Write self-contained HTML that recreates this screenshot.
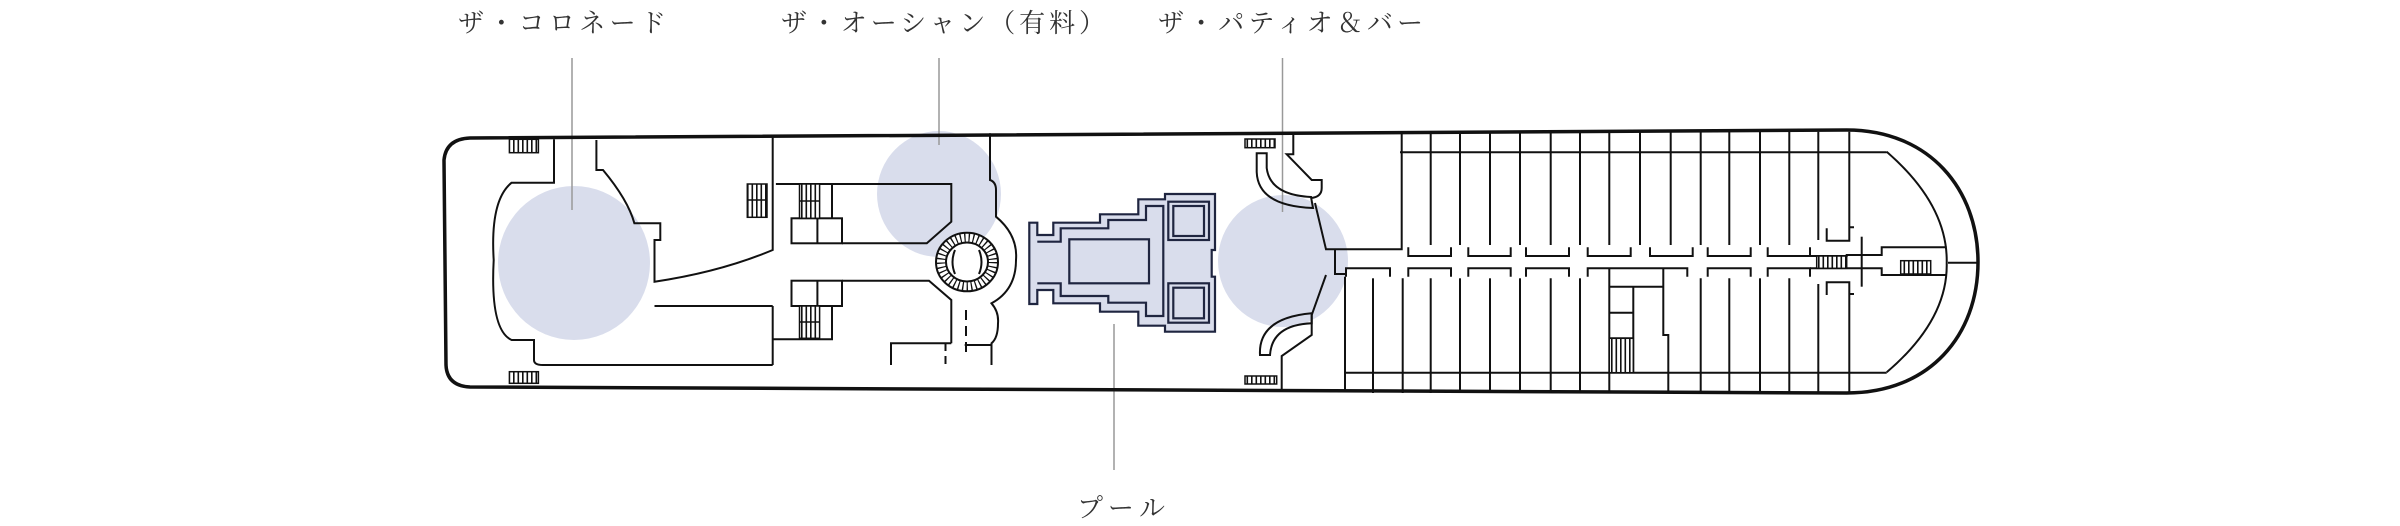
<!DOCTYPE html>
<html><head><meta charset="utf-8">
<style>html,body{margin:0;padding:0;background:#fff;}svg{display:block}</style>
</head><body>
<svg width="2400" height="526" viewBox="0 0 2400 526" xmlns="http://www.w3.org/2000/svg">
<defs>
<pattern id="st" width="4.5" height="10" patternUnits="userSpaceOnUse"><rect width="4.5" height="10" fill="#fff"/><rect x="0" width="1.6" height="10" fill="#111"/></pattern>
</defs>
<g font-family="'Liberation Serif','Noto Serif CJK SC','Noto Serif CJK JP',serif" font-size="26" fill="#333">
<text x="458" y="32" textLength="208" lengthAdjust="spacing">ザ・コロネード</text>
<text x="781" y="32" textLength="324" lengthAdjust="spacing">ザ・オーシャン（有料）</text>
<text x="1158" y="32" textLength="265" lengthAdjust="spacing">ザ・パティオ＆バー</text>
<text x="1077" y="517" textLength="88" lengthAdjust="spacing">プール</text>
</g>
<g fill="#d9ddec">
<ellipse cx="574" cy="263" rx="76" ry="77"/>
<ellipse cx="939" cy="194" rx="62" ry="63"/>
<ellipse cx="1283" cy="261" rx="65" ry="66"/>
</g>
<g stroke="#999" stroke-width="1.5">
<line x1="572" y1="58" x2="572" y2="210"/>
<line x1="939" y1="58" x2="939" y2="145"/>
<line x1="1282.5" y1="58" x2="1282.5" y2="212"/>
<line x1="1114" y1="324" x2="1114" y2="470"/>
</g>
<path d="M470,138 L1846.7,130 C1930,130 1978,190 1978,262 C1978,335 1930,393 1846.7,393 L470,387 Q447,386 446,365 L444,160 Q446,139 470,138 Z" fill="none" stroke="#111" stroke-width="3.5"/>
<g fill="none" stroke="#111" stroke-width="2">
<path d="M554,139.3 V182.7 H511.6 Q490,200 493.7,260 Q490,330 511.6,340 H534 V360 Q534,365 542.8,365 H772.7"/>
<path d="M596.4,140 V170 H603 Q628,200 634.4,223.3 H660.3 V240 H654.5 V281.7 Q720,272 772.7,250 V136"/>
<path d="M772.7,306 V365 M654.5,306 H772.7"/>
<path d="M775.9,184 H951.3 V221.7 L926.8,243.3 H842"/>
<rect x="791.5" y="218.3" width="50.5" height="25"/>
<line x1="817.4" y1="218.3" x2="817.4" y2="243.3"/>
<line x1="832" y1="184" x2="832" y2="218.3"/>
<path d="M842,280.7 H929 L951.3,300 V343.3"/>
<rect x="791.5" y="280.7" width="50.5" height="25.3"/>
<line x1="817.4" y1="280.7" x2="817.4" y2="306"/>
<path d="M832,306 V339.3 H772.7"/>
<path d="M891,365 V343.3 H951.3"/>
<path d="M990,133.3 V180 Q996,182 996,190 V216.7 Q1018,235 1016,260 Q1016,290 991.5,303.3 Q999,312 998,323.3 Q998,338 991.5,343.3 V365"/>
<line x1="964.7" y1="345" x2="991.5" y2="345"/>
<line x1="966" y1="310" x2="966" y2="353" stroke-dasharray="10 6"/>
<line x1="945.5" y1="343" x2="945.5" y2="365" stroke-dasharray="8 5"/>
<ellipse cx="967" cy="262" rx="31" ry="29.3" fill="#fff"/>
<ellipse cx="967" cy="262" rx="26" ry="24.5" stroke-width="9" stroke-dasharray="1.3 3"/>
<ellipse cx="967" cy="262" rx="21" ry="19.5" fill="#fff"/>
<path d="M955,250 Q950,262 955,274 M979,250 Q984,262 979,274" />
<path d="M1256.7,153.3 H1266.7 V168 Q1270,195 1311,197 L1313,208 Q1258,206 1256.7,172 Z"/>
<path d="M1293.3,131.7 V154.3 H1286.7 L1311.7,180 H1321.7 V188 Q1321.7,197 1311,198"/>
<path d="M1315,203 L1326,249.3 H1401.7 V131.7"/>
<path d="M1335,250 V274 H1345"/>
<path d="M1326,275 L1311.7,315 V335 L1281.7,356 V391.7"/>
<path d="M1260,355 Q1258,318 1311.7,313.3 V323.3 Q1272,325 1270,355 Z"/>
<path d="M1345,276.7 V392"/>
<line x1="1400" y1="152.3" x2="1886.7" y2="152.3"/>
<line x1="1345" y1="372.7" x2="1886.7" y2="372.7"/>
<g>
<line x1="1430.7" y1="131.7" x2="1430.7" y2="245"/><line x1="1460" y1="131.7" x2="1460" y2="245"/>
<line x1="1490" y1="131.7" x2="1490" y2="245"/><line x1="1520" y1="131.7" x2="1520" y2="245"/>
<line x1="1550.7" y1="131.7" x2="1550.7" y2="245"/><line x1="1580" y1="131.7" x2="1580" y2="245"/>
<line x1="1609.3" y1="131.7" x2="1609.3" y2="245"/><line x1="1640" y1="131.7" x2="1640" y2="245"/>
<line x1="1670.7" y1="131.7" x2="1670.7" y2="245"/><line x1="1700.7" y1="131.7" x2="1700.7" y2="245"/>
<line x1="1729.3" y1="131.7" x2="1729.3" y2="245"/><line x1="1760" y1="131.7" x2="1760" y2="245"/>
<line x1="1789.3" y1="131.7" x2="1789.3" y2="245"/><line x1="1818.3" y1="131.7" x2="1818.3" y2="240"/>
</g>
<path d="M1408.3,247.3 V256 H1451 V247.3 M1468.3,247.3 V256 H1510.7 V247.3 M1526,247.3 V256 H1569 V247.3 M1587.7,247.3 V256 H1630.7 V247.3 M1650,247.3 V256 H1692.7 V247.3 M1707.7,247.3 V256 H1750.7 V247.3 M1767.7,247.3 V256 H1810 V247.3"/>
<path d="M1346,276.7 V268.3 H1390 V276.7 M1408.3,276.7 V268.3 H1451 V276.7 M1468.3,276.7 V268.3 H1510.7 V276.7 M1526,276.7 V268.3 H1569 V276.7 M1587.7,276.7 V268.3 H1687.3 V276.7 M1707.7,276.7 V268.3 H1750.7 V276.7 M1767.7,276.7 V268.3 H1810 V276.7"/>
<g>
<line x1="1373" y1="278.3" x2="1373" y2="393"/><line x1="1402.7" y1="278.3" x2="1402.7" y2="393"/>
<line x1="1430.7" y1="278.3" x2="1430.7" y2="393"/><line x1="1460" y1="278.3" x2="1460" y2="393"/>
<line x1="1490" y1="278.3" x2="1490" y2="393"/><line x1="1520" y1="278.3" x2="1520" y2="393"/>
<line x1="1550.7" y1="278.3" x2="1550.7" y2="393"/><line x1="1580" y1="278.3" x2="1580" y2="393"/>
<line x1="1609.3" y1="268.3" x2="1609.3" y2="393"/>
<line x1="1700.7" y1="278.3" x2="1700.7" y2="393"/><line x1="1729.3" y1="278.3" x2="1729.3" y2="393"/>
<line x1="1760" y1="278.3" x2="1760" y2="393"/><line x1="1789.3" y1="278.3" x2="1789.3" y2="393"/>
<line x1="1818.3" y1="284" x2="1818.3" y2="393"/>
</g>
<path d="M1663.3,268.3 V335 H1668.3 V393"/>
<path d="M1609.3,286.7 H1663.3 M1609.3,312.7 H1633.3 M1609.3,338.3 H1633.3 M1633.3,286.7 V372.7"/>
<path d="M1886.7,151.7 Q1948,205 1946.7,263 Q1948,320 1886.7,372.3"/>
<line x1="1948" y1="262.7" x2="1977" y2="262.7"/>
<path d="M1826.7,228.3 V240.7 H1849.3 V131.7 M1849.3,227.3 H1854"/>
<path d="M1826.7,295 V282.3 H1849.3 V393 M1849.3,294 H1854"/>
<path d="M1810,256 H1846.7 V255 H1881.7 V247.3 H1946.7 M1810,268.3 H1881.7 V275 H1946.7"/>
<line x1="1861.7" y1="236.7" x2="1861.7" y2="286.7"/>
</g>
<g stroke="#111" stroke-width="1.5">
<rect x="509.4" y="139.3" width="29" height="13.4" fill="url(#st)"/>
<rect x="509.4" y="371.7" width="29" height="11.6" fill="url(#st)"/>
<rect x="747.3" y="184" width="19.7" height="33.3" fill="url(#st)"/>
<line x1="747.3" y1="200" x2="767" y2="200"/>
<rect x="799.5" y="184" width="20.1" height="34.3" fill="url(#st)"/>
<line x1="799.5" y1="201" x2="819.6" y2="201"/>
<rect x="799.5" y="306" width="20.1" height="32.3" fill="url(#st)"/>
<line x1="799.5" y1="322" x2="819.6" y2="322"/>
<rect x="1245" y="139" width="30" height="8.7" fill="url(#st)"/>
<rect x="1245" y="376" width="31.7" height="8" fill="url(#st)"/>
<rect x="1609.3" y="338.3" width="24" height="34.4" fill="url(#st)"/>
<rect x="1816.7" y="256" width="30" height="12.3" fill="url(#st)"/>
<rect x="1900.7" y="260.7" width="30" height="13.3" fill="url(#st)"/>
</g>
<g stroke="#1f2540" stroke-width="2.2" fill="#d9ddec">
<polygon points="1029.3,222.7 1037.3,222.7 1037.3,235 1053.3,235 1053.3,222.7 1100,222.7 1100,214.3 1138.3,214.3 1138.3,199.3 1165,199.3 1165,194 1215,194 1215,250 1211.7,250 1211.7,276.7 1215,276.7 1215,331.7 1165,331.7 1165,325.7 1138.3,325.7 1138.3,311.7 1100,311.7 1100,303.3 1053.3,303.3 1053.3,290 1037.3,290 1037.3,304 1029.3,304"/>
<polyline fill="none" points="1037.3,241.7 1060.7,241.7 1060.7,228.3 1108.3,228.3 1108.3,220 1146,220 1146,206 1163.3,206 1163.3,316 1146,316 1146,302.7 1108.3,302.7 1108.3,296 1060.7,296 1060.7,283.3 1037.3,283.3"/>
<rect x="1069.3" y="239.3" width="79.7" height="44"/>
<rect x="1168.3" y="201.7" width="40.7" height="38.3"/>
<rect x="1173.3" y="206" width="30.7" height="30"/>
<rect x="1168.3" y="283.3" width="40.7" height="39.4"/>
<rect x="1173.3" y="287.7" width="30.7" height="30.6"/>
</g>
</svg>
</body></html>
